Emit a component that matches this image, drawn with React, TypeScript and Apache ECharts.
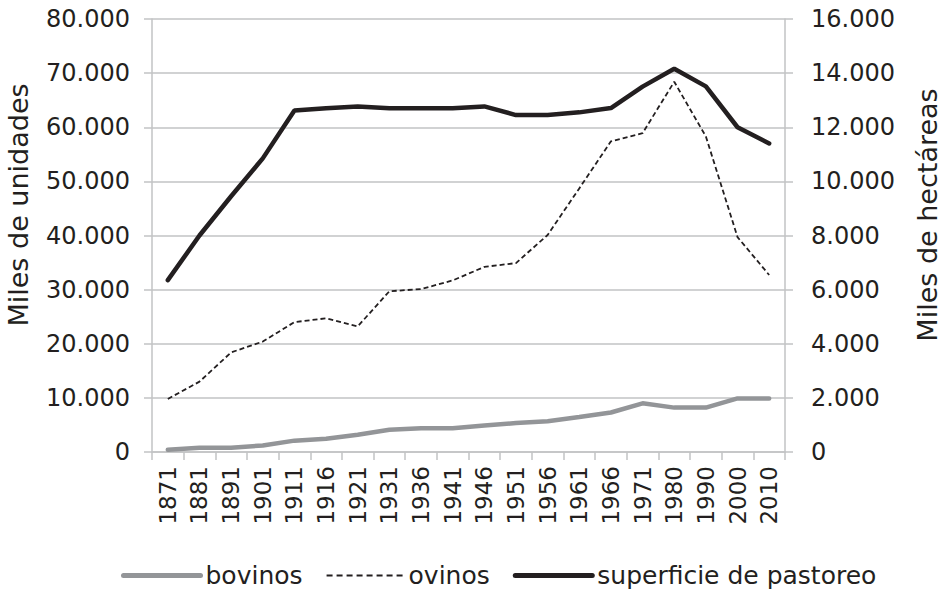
import React, { useEffect, useRef } from "react";
import * as echarts from "echarts";

const categories = ["1871", "1881", "1891", "1901", "1911", "1916", "1921", "1931", "1936", "1941", "1946", "1951", "1956", "1961", "1966", "1971", "1980", "1990", "2000", "2010"];
const bovinos = [400, 800, 800, 1200, 2100, 2450, 3200, 4100, 4400, 4400, 4900, 5350, 5700, 6450, 7300, 9000, 8200, 8200, 9900, 9900];
const ovinos = [9800, 13000, 18400, 20400, 24000, 24700, 23200, 29700, 30100, 31700, 34200, 34900, 40100, 48700, 57400, 58900, 68400, 58300, 39700, 32700];
const superficie = [6350, 8000, 9450, 10850, 12620, 12700, 12770, 12700, 12700, 12700, 12770, 12450, 12450, 12550, 12710, 13500, 14160, 13510, 12000, 11400];

const FONT = "DejaVu Sans";
const TEXT = "#231f20";
const GRAY = "#939598";
const GRID = "#c2c3c5";

const fmt = (v: number) => (v === 0 ? "0" : String(v).replace(/\B(?=(\d{3})+(?!\d))/g, "."));

export default function App() {
  const ref = useRef<HTMLDivElement>(null);
  useEffect(() => {
    if (!ref.current) return;
    const chart = echarts.init(ref.current, undefined, { renderer: "svg" });
    chart.setOption({
      animation: false,
      backgroundColor: "#ffffff",
      textStyle: { fontFamily: FONT, color: TEXT },
      grid: { left: 152, right: 160, top: 19, bottom: 140, containLabel: false },
      legend: {
        left: 116,
        top: 558,
        itemWidth: 77,
        itemHeight: 14,
        itemGap: 23,
        itemStyle: { opacity: 0 },
        textStyle: { fontFamily: FONT, fontSize: 25, color: TEXT },
        data: [
          { name: "bovinos", lineStyle: { color: GRAY, width: 5, type: "solid", cap: "round" } },
          { name: "ovinos", lineStyle: { color: TEXT, width: 2, type: [6, 4] } },
          { name: "superficie de pastoreo", lineStyle: { color: TEXT, width: 5, type: "solid", cap: "round" } },
        ],
      },
      xAxis: {
        type: "category",
        data: categories,
        boundaryGap: true,
        axisLine: { lineStyle: { color: GRID, width: 1.5 } },
        axisTick: { show: true, length: 8, alignWithLabel: false, lineStyle: { color: GRID, width: 1.5 } },
        axisLabel: { rotate: 90, margin: 14, fontSize: 23, color: TEXT, fontFamily: FONT, interval: 0 },
      },
      yAxis: [
        {
          type: "value",
          min: 0,
          max: 80000,
          interval: 10000,
          axisLine: { show: true, lineStyle: { color: GRID, width: 1.5 } },
          axisTick: { show: true, length: 8, lineStyle: { color: GRID, width: 1.5 } },
          splitLine: { show: true, lineStyle: { color: GRID, width: 1.5 } },
          axisLabel: { fontSize: 24, color: TEXT, fontFamily: FONT, margin: 22, formatter: fmt },
        },
        {
          type: "value",
          min: 0,
          max: 16000,
          interval: 2000,
          position: "right",
          axisLine: { show: true, lineStyle: { color: GRID, width: 1.5 } },
          axisTick: { show: true, length: 8, lineStyle: { color: GRID, width: 1.5 } },
          splitLine: { show: false },
          axisLabel: { fontSize: 24, color: TEXT, fontFamily: FONT, margin: 26, formatter: fmt },
        },
      ],
      graphic: [
        {
          type: "text",
          x: 18,
          y: 205,
          rotation: Math.PI / 2,
          style: { text: "Miles de unidades", fontSize: 27, fontFamily: FONT, fill: TEXT, textAlign: "center", textVerticalAlign: "middle" },
        },
        {
          type: "text",
          x: 927,
          y: 215,
          rotation: Math.PI / 2,
          style: { text: "Miles de hectáreas", fontSize: 27, fontFamily: FONT, fill: TEXT, textAlign: "center", textVerticalAlign: "middle" },
        },
      ],
      series: [
        {
          name: "bovinos",
          type: "line",
          yAxisIndex: 0,
          data: bovinos,
          symbol: "none",
          lineStyle: { color: GRAY, width: 4.5, cap: "round" },
          itemStyle: { color: GRAY },
        },
        {
          name: "ovinos",
          type: "line",
          yAxisIndex: 0,
          data: ovinos,
          symbol: "none",
          lineStyle: { color: TEXT, width: 1.8, type: [5, 3] },
          itemStyle: { color: TEXT },
        },
        {
          name: "superficie de pastoreo",
          type: "line",
          yAxisIndex: 1,
          data: superficie,
          symbol: "none",
          lineStyle: { color: TEXT, width: 4.5, cap: "round" },
          itemStyle: { color: TEXT },
        },
      ],
    });
    return () => chart.dispose();
  }, []);
  return <div ref={ref} style={{ width: 945, height: 592, position: "absolute", left: 0, top: 0 }} />;
}
